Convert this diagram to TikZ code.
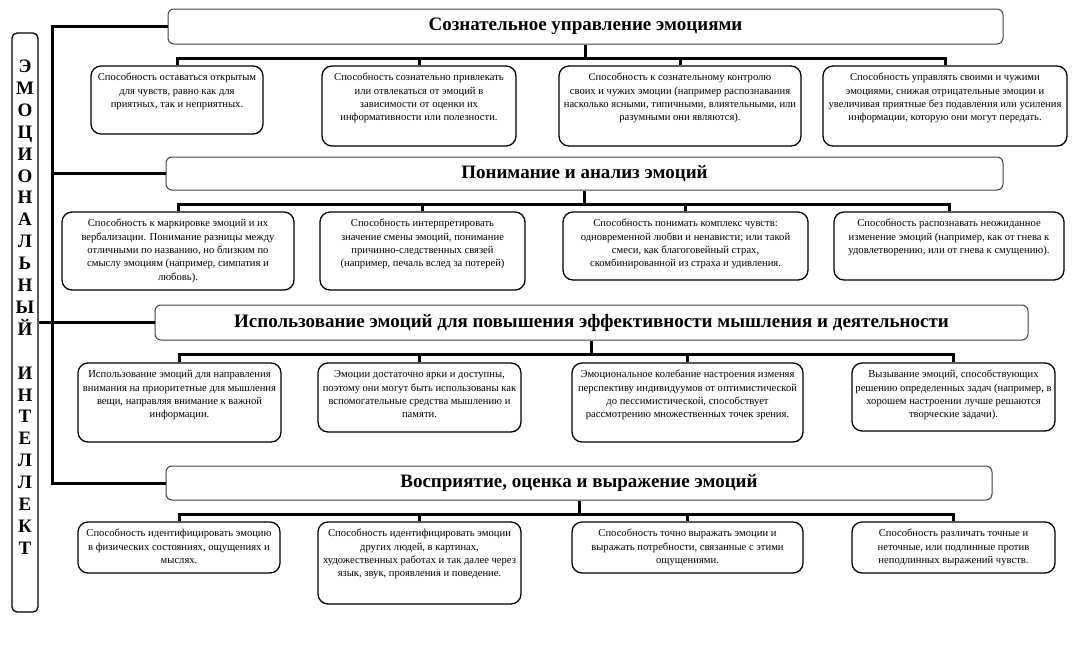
\documentclass[tikz,border=0pt]{standalone}
\usepackage{fontspec}
\setmainfont{Liberation Serif}
\newcommand{\ability}[3]{\parbox[c][#2][t]{#1}{\vspace*{5.5pt}\makebox[#1][c]{\fontsize{10.6}{13.3}\selectfont\begin{tabular}[t]{@{}c@{}}#3\end{tabular}}}}

\begin{document}
\begin{tikzpicture}[x=1pt,y=-1pt,
    ability/.style={draw, line width=1.3pt, rounded corners=10pt, inner sep=0pt, fill=white},
    topic/.style={draw=black!75, line width=1pt, rounded corners=6pt, inner sep=0pt, font=\fontsize{19}{22}\selectfont\bfseries},
    link/.style={line width=3pt}]

    \useasboundingbox (0,0) rectangle (1088,664);

    \node[ability, rounded corners=5pt] (ei) at (25,322.5) {\parbox[c][579pt][t]{26pt}{\centering\fontsize{19}{21.9}\selectfont\bfseries\vspace*{27pt}Э\\М\\О\\Ц\\И\\О\\Н\\А\\Л\\Ь\\Н\\Ы\\Й\\[21.9pt]И\\Н\\Т\\Е\\Л\\Л\\Е\\К\\Т\par}};

    \node[topic, minimum width=835pt, minimum height=35pt] (h1) at (585.5,26.5) {Сознательное управление эмоциями};
    \node[topic, minimum width=837pt, minimum height=33pt] (h2) at (584.5,173.5) {Понимание и анализ эмоций};
    \node[topic, minimum width=873pt, minimum height=35pt] (h3) at (591.5,322.5) {Использование эмоций для повышения эффективности мышления и деятельности};
    \node[topic, minimum width=826pt, minimum height=34pt] (h4) at (579,483) {Восприятие, оценка и выражение эмоций};

    \node[ability] (a11) at (177,100) {\ability{172pt}{68pt}{Способность оставаться открытым\\ для чувств, равно как для\\ приятных, так и  неприятных.}};
    \node[ability] (a12) at (419,106) {\ability{194pt}{80pt}{Способность сознательно привлекать\\ или отвлекаться от эмоций в\\ зависимости от оценки их\\ информативности или полезности.}};
    \node[ability] (a13) at (680,106) {\ability{242pt}{80pt}{Способность к сознательному контролю\\ своих и чужих эмоции (например распознавания\\ насколько ясными, типичными, влиятельными, или\\ разумными они являются).}};
    \node[ability] (a14) at (945,106) {\ability{244pt}{80pt}{Способность управлять своими и чужими\\ эмоциями, снижая отрицательные эмоции и\\ увеличивая приятные без подавления или усиления\\ информации, которую они могут передать.}};

    \node[ability] (a21) at (178,251) {\ability{232pt}{78pt}{Способность к маркировке эмоций и их\\ вербализации. Понимание разницы между\\ отличными по названию, но близким по\\ смыслу эмоциям (например,  симпатия и\\ любовь).}};
    \node[ability] (a22) at (422.5,251) {\ability{205pt}{78pt}{Способность интерпретировать\\ значение смены эмоций,  понимание\\ причинно-следственных связей\\ (например, печаль вслед за потерей)}};
    \node[ability] (a23) at (685.5,246) {\ability{245pt}{68pt}{Способность понимать комплекс чувств:\\ одновременной любви и ненависти;  или такой\\ смеси, как  благоговейный страх,\\ скомбинированной из страха и удивления.}};
    \node[ability] (a24) at (949,246) {\ability{230pt}{68pt}{Способность распознавать неожиданное\\ изменение эмоций (например, как от гнева к\\ удовлетворению, или от гнева к смущению).}};

    \node[ability] (a31) at (179.5,402.5) {\ability{203pt}{79pt}{Использование эмоций для направления\\ внимания  на приоритетные для мышления\\ вещи,  направляя внимание к важной\\ информации.}};
    \node[ability] (a32) at (419.5,397.5) {\ability{203pt}{69pt}{Эмоции достаточно ярки и доступны,\\ поэтому они могут быть использованы как\\ вспомогательные средства  мышлению  и\\ памяти.}};
    \node[ability] (a33) at (687.5,402.5) {\ability{231pt}{79pt}{Эмоциональное колебание настроения изменяя\\ перспективу индивидуумов от оптимистической\\ до пессимистической, способствует\\ рассмотрению множественных точек зрения.}};
    \node[ability] (a34) at (953.5,397) {\ability{203pt}{68pt}{Вызывание эмоций, способствующих\\ решению определенных задач (например, в\\ хорошем настроении лучше решаются\\ творческие задачи).}};

    \node[ability] (a41) at (179,547.5) {\ability{202pt}{51pt}{Способность идентифицировать эмоцию\\ в физических состояниях, ощущениях и\\ мыслях.}};
    \node[ability] (a42) at (419.5,563) {\ability{203pt}{82pt}{Способность идентифицировать эмоции\\ других людей, в картинах,\\ художественных работах и так далее через\\ язык, звук, проявления и поведение.}};
    \node[ability] (a43) at (687.5,547.5) {\ability{231pt}{51pt}{Способность точно выражать  эмоции и\\ выражать потребности, связанные с этими\\ ощущениями.}};
    \node[ability] (a44) at (953.5,547.5) {\ability{203pt}{51pt}{Способность различать точные и\\ неточные, или подлинные против\\ неподлинных выражений чувств.}};

    \coordinate (spine) at (52,0);
    \draw[link] (h1.west) -| (spine |- h4.west) -- (h4.west);
    \draw[link] (spine |- h2.west) -- (h2.west);
    \draw[link] (ei.east) -- (h3.west);

    \foreach \r in {1,...,4} {
        \draw[link] (h\r.south) -- ++(0,14) coordinate (bar\r);
        \foreach \c in {1,...,4} \draw[link] (a\r\c.north) |- (bar\r);
    }
\end{tikzpicture}
\end{document}
